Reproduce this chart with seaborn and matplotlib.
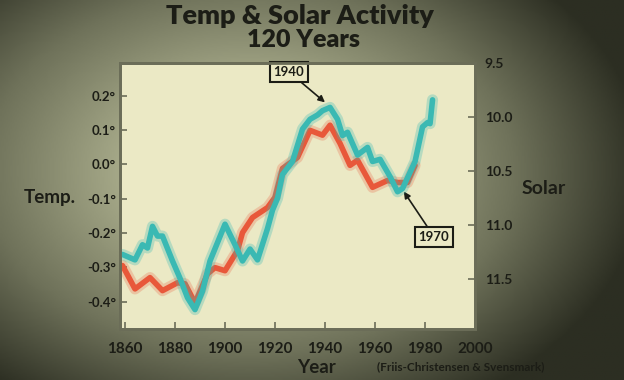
import numpy as np
import matplotlib
matplotlib.use("Agg")
import matplotlib.pyplot as plt
from matplotlib.colors import LinearSegmentedColormap
import seaborn as sns

# temperature anomaly (left axis, deg C)
temp_years = [1859, 1864, 1870, 1875, 1881, 1884, 1888, 1893, 1896, 1900,
              1905, 1907, 1911, 1917, 1920, 1923, 1929, 1934, 1939, 1942,
              1946, 1950, 1953, 1959, 1965, 1969, 1973, 1976]
temp = [-0.295, -0.363, -0.330, -0.368, -0.345, -0.348, -0.404, -0.319, -0.301, -0.310,
        -0.251, -0.199, -0.155, -0.126, -0.096, -0.012, 0.020, 0.099, 0.085, 0.114,
        0.061, -0.003, 0.012, -0.067, -0.047, -0.053, -0.053, -0.003]

# solar cycle length (right axis, years, inverted)
solar_years = [1859, 1864, 1867, 1869, 1871, 1873, 1875, 1879, 1882, 1885,
               1888, 1891, 1894, 1900, 1904, 1907, 1910, 1913, 1917, 1919,
               1921, 1923, 1927, 1931, 1934, 1937, 1939, 1942, 1945, 1947,
               1949, 1953, 1957, 1959, 1962, 1966, 1969, 1971, 1976, 1979,
               1981, 1982, 1983]
solar = [11.27, 11.32, 11.18, 11.21, 11.01, 11.10, 11.10, 11.33, 11.49, 11.67,
         11.78, 11.61, 11.33, 10.99, 11.18, 11.33, 11.22, 11.32, 11.03, 10.86,
         10.75, 10.53, 10.41, 10.11, 10.02, 9.98, 9.94, 9.91, 10.02, 10.17,
         10.14, 10.35, 10.28, 10.41, 10.39, 10.55, 10.69, 10.66, 10.41, 10.09,
         10.05, 10.06, 9.84]

x_ticks = [1860, 1880, 1900, 1920, 1940, 1960, 1980, 2000]
temp_ticks = [0.2, 0.1, 0.0, -0.1, -0.2, -0.3, -0.4]
solar_ticks = [9.5, 10.0, 10.5, 11.0, 11.5]

sns.set_style("ticks")
plt.rcParams['font.family'] = ['Lato', 'DejaVu Sans']
plt.rcParams['font.weight'] = 'bold'

ink = '#1c1d16'
red = '#e8583a'
teal = '#3ab9b3'

fig = plt.figure(figsize=(6.24, 3.8), dpi=100)

# dim, vignetted backdrop like a filmed screen
bg = fig.add_axes([0, 0, 1, 1], zorder=-10)
gx, gy = np.meshgrid(np.linspace(0, 1, 300), np.linspace(0, 1, 200))
r = np.sqrt(((gx - 0.40) / 0.75) ** 2 + ((gy - 0.45) / 0.85) ** 2)
vign = LinearSegmentedColormap.from_list('v', ['#bcbe9c', '#a4a787', '#6f725a', '#2c2e22'])
bg.imshow(r, cmap=vign, aspect='auto', extent=[0, 1, 0, 1], vmin=0, vmax=0.85)
bg.axis('off')

ax = fig.add_axes([0.1923, 0.134, 0.569, 0.700])
ax.set_facecolor('#ebe9c5')
ax2 = ax.twinx()

sns.lineplot(x=temp_years, y=temp, ax=ax, color=red, lw=8, alpha=0.25)
sns.lineplot(x=temp_years, y=temp, ax=ax, color=red, lw=4, solid_joinstyle='round')
sns.lineplot(x=solar_years, y=solar, ax=ax2, color=teal, lw=8, alpha=0.3)
sns.lineplot(x=solar_years, y=solar, ax=ax2, color=teal, lw=4, solid_joinstyle='round')

ax.set_xlim(1858, 2000)
ax.set_ylim(-0.48, 0.295)
ax2.set_ylim(11.96, 9.52)

ax.set_xticks(x_ticks)
ax.set_xticklabels([str(y) for y in x_ticks], fontsize=11, fontweight='bold', color=ink)
ax.set_yticks(temp_ticks)
ax.set_yticklabels([f'{t:.1f}°' for t in temp_ticks], fontsize=9.5, fontweight='bold', color=ink)
ax2.set_yticks(solar_ticks)
ax2.set_yticklabels([f'{s:.1f}' for s in solar_ticks], fontsize=10, fontweight='bold', color=ink)

ax.tick_params(axis='both', direction='in', length=5, width=1.2, color='#6b6d58', pad=3)
ax.tick_params(axis='x', pad=9)
ax2.tick_params(axis='y', direction='in', length=5, width=1.2, color='#6b6d58', pad=7)

for a in (ax, ax2):
    for s in a.spines.values():
        s.set_visible(True)
        s.set_color('#6b6d58')
        s.set_linewidth(2)

ax.set_xlabel('')
ax.set_ylabel('')
ax2.set_ylabel('')

ax.annotate('1940', xy=(1940.4, 0.178), xytext=(1925.6, 0.269),
            ha='center', va='center', fontsize=9.5, fontweight='bold', color=ink,
            bbox=dict(boxstyle='square,pad=0.3', fc='#ebe9c5', ec=ink, lw=1.5),
            arrowprops=dict(arrowstyle='-|>', color=ink, lw=1.2, shrinkA=0, shrinkB=1))
ax.annotate('1970', xy=(1971.2, -0.076), xytext=(1983.6, -0.211),
            ha='center', va='center', fontsize=9.5, fontweight='bold', color=ink,
            bbox=dict(boxstyle='square,pad=0.3', fc='#ebe9c5', ec=ink, lw=1.5),
            arrowprops=dict(arrowstyle='-|>', color=ink, lw=1.2, shrinkA=0, shrinkB=1))

fig.text(0.481, 0.958, 'Temp & Solar Activity', ha='center', va='center',
         fontsize=19.5, fontweight='heavy', color=ink)
fig.text(0.487, 0.895, '120 Years', ha='center', va='center',
         fontsize=18, fontweight='heavy', color=ink)
fig.text(0.079, 0.479, 'Temp.', ha='center', va='center', fontsize=13.5, fontweight='bold', color=ink)
fig.text(0.871, 0.505, 'Solar', ha='center', va='center', fontsize=14, fontweight='bold', color=ink)
fig.text(0.507, 0.032, 'Year', ha='center', va='center', fontsize=13.5, fontweight='bold', color=ink)
fig.text(0.739, 0.034, '(Friis-Christensen & Svensmark)', ha='center', va='center',
         fontsize=8.5, fontweight='bold', color=ink)

fig.savefig('out.png', dpi=100)
